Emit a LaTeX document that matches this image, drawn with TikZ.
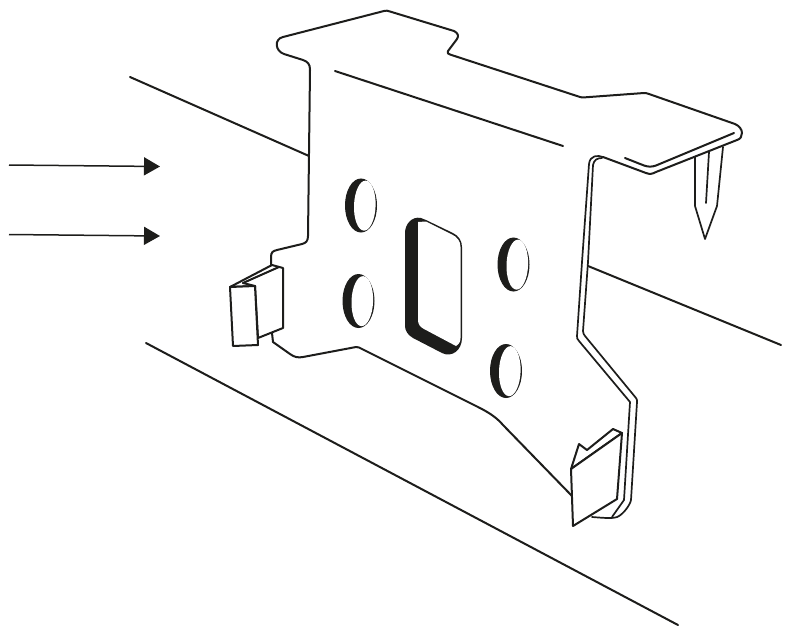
\documentclass[tikz,border=0pt]{standalone}
\usepackage{xcolor}
\usepackage{tikz}
\usetikzlibrary{arrows.meta}
\definecolor{ink}{HTML}{1D1D1B}

\begin{document}
\begin{tikzpicture}[x=1pt,y=-1pt]
          \useasboundingbox (0,0) rectangle (795,630);

          \tikzstyle{outline}=[draw=ink,line width=2pt,line join=round,line cap=round]
          \tikzstyle{thinline}=[draw=ink,line width=1.7pt,line join=round,line cap=round]
          \tikzstyle{clipface}=[outline,fill=white]
          \tikzstyle{airflow}=[draw=ink,line width=1.5pt,-{Triangle[length=16pt,width=18pt]}]

          % airflow arrows
          \coordinate (A1) at (9,165);
          \coordinate (A2) at (160,166.5);
          \coordinate (B1) at (9,234.5);
          \coordinate (B2) at (160,236);
          \draw[airflow] (A1) -- (A2);
          \draw[airflow] (B1) -- (B2);

          % beams behind the bracket
          \draw[outline] (130,77) -- (309,156);
          \draw[outline] (588,266) -- (781,345);
          \draw[outline] (146,343) -- (678,625);

          % bracket outline
          \draw[outline] (271,266) -- (271,257) .. controls (271,252) and (273,251) .. (277,250)
                -- (302,244) .. controls (306,243) and (308,241) .. (308,236)
                -- (310,70) .. controls (310,64) and (308,62) .. (303,60)
                -- (284,54) .. controls (275,51) and (274,39) .. (283,37)
                -- (384,11) .. controls (386,10.5) and (388,10.5) .. (390,11.5)
                -- (454,31) .. controls (458,33) and (459,36) .. (457,39)
                -- (448,51) .. controls (447,53) and (448,54) .. (450,54.5)
                -- (580,97) .. controls (581,97.3) and (582,97.5) .. (584,97.4)
                -- (644,93) .. controls (645,93) and (647,93) .. (649,94)
                -- (735,124) .. controls (744,128) and (744,138) .. (737,140)
                -- (656,172) .. controls (652,174) and (650,174.5) .. (646,173)
                -- (603,157);

          % upper fold lines
          \draw[outline] (335,71) -- (563,146);
          \draw[outline] (625,158) -- (644,165.5) .. controls (648,167) and (652,167) .. (656,165.5) -- (734,133);

          % strip on the right, two lines
          \draw[thinline] (603,157) .. controls (598,155) and (590,155) .. (589,164)
                -- (582,262) -- (577,336) .. controls (577,338) and (577,339) .. (579,341)
                -- (630,402) -- (624,500) -- (612,517);
          \draw[thinline] (602,158) .. controls (597,158) and (594,160) .. (593,165)
                -- (588,262) -- (583,331) .. controls (583,333) and (584,335) .. (585,336)
                -- (636,398) .. controls (637,399) and (637,400) .. (637,402)
                -- (631,500) .. controls (630,505) and (624,513) .. (619,516)
                .. controls (615,519) and (605,518) .. (592,517);

          % lower edge of the bracket
          \draw[outline] (272,333) -- (273,342) -- (290,354) .. controls (294,357) and (298,358) .. (303,357)
                -- (356,347) .. controls (357,347) and (358,347) .. (359,347.5)
                -- (478,407) .. controls (490,413) and (497,418) .. (503,425) -- (572,496);

          % nail under the top plate
          \draw[thinline] (695,157) -- (695,206) -- (705,239) -- (717,206) -- (723,147);
          \draw[thinline] (709,152) -- (706,203);

          % four round holes
          \foreach \cx/\cy in {361/205.5,358.5/301,513.5/264.5,506/371}{
              \draw[ink,line width=1pt,fill=ink] (\cx,\cy) ellipse [x radius=15.5,y radius=26.5];
              \fill[white,rotate around={-2:(\cx,\cy)}] (\cx+3.8,\cy) ellipse [x radius=10.8,y radius=25];
          }

          % window in the middle
          \fill[ink] (405,233) .. controls (405,224) and (412,216) .. (421,218)
                -- (426,220) -- (453,233) .. controls (459,236) and (462,241) .. (462,247)
                -- (462,338) .. controls (462,350) and (452,358) .. (442,353)
                -- (413,338) .. controls (408,335) and (405,331) .. (405,326) -- cycle;
          \fill[white] (418,222) -- (426,221.5) -- (452,234.5) .. controls (457,237) and (460.5,241) .. (460.5,247)
                -- (460.5,338) .. controls (460.5,342) and (459,344) .. (456,346)
                -- (424,329) .. controls (420,327) and (418,324) .. (418,320) -- cycle;

          % clip on the left
          \draw[clipface] (230,287) -- (272,265) -- (283,268) -- (283,328) -- (258,338) -- (255,286) -- cycle;
          \draw[outline] (243,283) -- (279,267);
          \draw[outline] (243,283) -- (255,286);
          \draw[clipface] (230,287) -- (255,286) -- (258,345) -- (233,346) -- cycle;

          % clip on the right
          \draw[clipface] (571,469) -- (579,444) -- (587,450) -- (613,429) -- (622,433) -- cycle;
          \draw[clipface] (571,469) -- (622,433) -- (617,499) -- (573,526) -- cycle;
\end{tikzpicture}
\end{document}
